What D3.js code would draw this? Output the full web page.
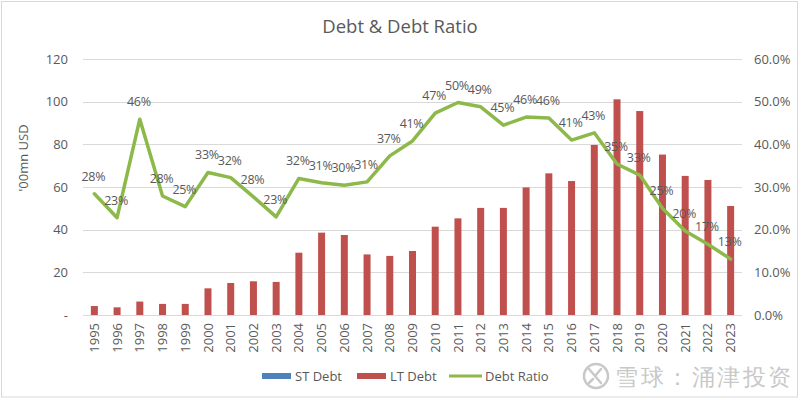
<!DOCTYPE html>
<html>
<head>
<meta charset="utf-8">
<script src="https://cdn.jsdelivr.net/npm/d3@7"></script>
<style>
  html, body { margin: 0; padding: 0; background: #fff; }
  svg { display: block; }
  text { font-family: "Open Sans", "Noto Sans", sans-serif; }
</style>
</head>
<body>
<svg id="chart" width="800" height="399"></svg>
<script>
const years = ["1995","1996","1997","1998","1999","2000","2001","2002","2003","2004","2005","2006","2007","2008","2009","2010","2011","2012","2013","2014","2015","2016","2017","2018","2019","2020","2021","2022","2023"];
const stDebt = [0,0,0,0,0,0,0,0,0,0,0,0,0,0,0,0,0,0,0,0,0,0,0,0,0,0,0,0,0];
const ltDebt = [4.2,3.6,6.3,5.2,5.2,12.5,15.0,15.8,15.5,29.2,38.6,37.5,28.4,27.7,30.0,41.4,45.3,50.2,50.2,59.8,66.4,62.8,79.7,101.1,95.6,75.2,65.2,63.3,51.1];
const debtRatio = [0.284,0.228,0.459,0.279,0.254,0.334,0.322,0.277,0.230,0.320,0.310,0.304,0.312,0.373,0.408,0.473,0.498,0.488,0.445,0.464,0.462,0.410,0.427,0.354,0.328,0.250,0.197,0.166,0.131];
const leftTicks = [0,20,40,60,80,100,120];
const rightTicks = [0,0.1,0.2,0.3,0.4,0.5,0.6];
const seriesNames = ["ST Debt","LT Debt","Debt Ratio"];

const svg = d3.select("#chart");
const txt = "#595959";

// outer border
svg.append("rect").attr("x",1.5).attr("y",1.5).attr("width",796).attr("height",395.5)
  .attr("fill","#fff").attr("stroke","#d9d9d9").attr("stroke-width",1);

const plot = {left:83, right:742, top:59, bottom:315};
const x = d3.scaleBand().domain(years).range([plot.left, plot.right]).padding(0);
const yL = d3.scaleLinear().domain([0,120]).range([plot.bottom, plot.top]);
const yR = d3.scaleLinear().domain([0,0.6]).range([plot.bottom, plot.top]);
const cx = d => x(d) + x.bandwidth()/2;

// title
svg.append("text").attr("x",400).attr("y",33).attr("text-anchor","middle")
  .attr("font-size",18.5).attr("fill",txt).text("Debt & Debt Ratio");

// gridlines
svg.append("g").selectAll("line").data(leftTicks).join("line")
  .attr("x1",plot.left).attr("x2",plot.right)
  .attr("y1",d=>Math.round(yL(d))+0.5).attr("y2",d=>Math.round(yL(d))+0.5)
  .attr("stroke","#d9d9d9").attr("stroke-width",1);

// left axis
const leftAxis = d3.axisLeft(yL).tickValues(leftTicks).tickSize(0).tickPadding(0)
  .tickFormat(d => d === 0 ? "-" : d3.format("d")(d));
const gL = svg.append("g").attr("transform",`translate(68,0)`).call(leftAxis);
gL.select(".domain").remove();
gL.selectAll("text").attr("fill",txt).attr("font-size",13).attr("font-family","Open Sans, sans-serif");

// right axis
const rightAxis = d3.axisRight(yR).tickValues(rightTicks).tickSize(0).tickPadding(0)
  .tickFormat(d3.format(".1%"));
const gR = svg.append("g").attr("transform",`translate(754,0)`).call(rightAxis);
gR.select(".domain").remove();
gR.selectAll("text").attr("fill",txt).attr("font-size",13).attr("font-family","Open Sans, sans-serif");

// x axis labels
const xAxis = d3.axisBottom(x).tickSize(0).tickPadding(0);
const gX = svg.append("g").attr("transform",`translate(0,${plot.bottom})`).call(xAxis);
gX.select(".domain").remove();
gX.selectAll("text")
  .attr("transform","rotate(-90)")
  .attr("text-anchor","end")
  .attr("x",-8).attr("y",0).attr("dy","0.35em")
  .attr("fill",txt).attr("font-size",13).attr("font-family","Open Sans, sans-serif");

// y axis title
svg.append("text").attr("transform","translate(28,158) rotate(-90)")
  .attr("text-anchor","middle").attr("font-size",13).attr("fill",txt).text("'00mn USD");

// bars (stacked: ST + LT)
const barW = 7;
svg.append("g").selectAll("rect.st").data(years).join("rect")
  .attr("x",d=>cx(d)-barW/2).attr("width",barW)
  .attr("y",(d,i)=>yL(stDebt[i])).attr("height",(d,i)=>yL(0)-yL(stDebt[i]))
  .attr("fill","#4f81bd");
svg.append("g").selectAll("rect.lt").data(years).join("rect")
  .attr("x",d=>cx(d)-barW/2).attr("width",barW)
  .attr("y",(d,i)=>yL(stDebt[i]+ltDebt[i])).attr("height",(d,i)=>yL(stDebt[i])-yL(stDebt[i]+ltDebt[i]))
  .attr("fill","#c0504d");

// line
const line = d3.line().x((d,i)=>cx(years[i])).y(d=>yR(d));
svg.append("path").datum(debtRatio).attr("d",line)
  .attr("fill","none").attr("stroke","#8db84a").attr("stroke-width",3.5)
  .attr("stroke-linejoin","round").attr("stroke-linecap","round");

// data labels
svg.append("g").selectAll("text").data(debtRatio).join("text")
  .attr("x",(d,i)=>cx(years[i])-1).attr("y",d=>yR(d)-13)
  .attr("text-anchor","middle").attr("font-size",12.5).attr("letter-spacing",-0.3).attr("fill",txt)
  .text(d=>d3.format(".0%")(d));

// legend
const lg = svg.append("g");
lg.append("rect").attr("x",262).attr("y",373).attr("width",29).attr("height",6).attr("fill","#4f81bd");
lg.append("text").attr("x",295).attr("y",381).attr("font-size",13).attr("fill",txt).text(seriesNames[0]);
lg.append("rect").attr("x",357).attr("y",373).attr("width",29).attr("height",6).attr("fill","#c0504d");
lg.append("text").attr("x",390).attr("y",381).attr("font-size",13).attr("fill",txt).text(seriesNames[1]);
lg.append("line").attr("x1",449).attr("x2",482).attr("y1",376).attr("y2",376).attr("stroke","#8db84a").attr("stroke-width",3);
lg.append("text").attr("x",485).attr("y",381).attr("font-size",13).attr("fill",txt).text(seriesNames[2]);

// watermark
const wm = svg.append("g");
wm.append("circle").attr("cx",596).attr("cy",376).attr("r",12).attr("fill","none").attr("stroke","#c8c8c8").attr("stroke-width",2.5);
wm.append("path").attr("d","M589,369 L601,383 M601,369 L595,376 M589,383 L593,379")
  .attr("fill","none").attr("stroke","#c8c8c8").attr("stroke-width",2.5).attr("stroke-linecap","round");
wm.append("text").attr("x",615).attr("y",385).attr("font-size",23)
  .attr("font-family","Noto Sans CJK SC, sans-serif").attr("letter-spacing",2.5)
  .attr("fill","#c8c8c8").text("雪球：涌津投资");
</script>
</body>
</html>
